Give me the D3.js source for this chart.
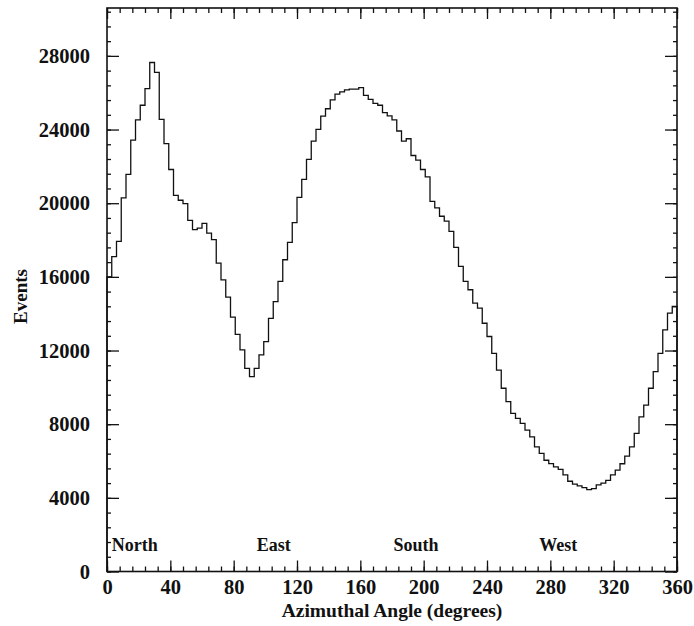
<!DOCTYPE html>
<html>
<head>
<meta charset="utf-8">
<script src="https://cdn.jsdelivr.net/npm/d3@7"></script>
<style>
  html, body { margin: 0; padding: 0; background: #fff; }
  svg { display: block; }
  text { font-family: "Liberation Serif", "DejaVu Serif", serif; fill: #111; }
</style>
</head>
<body>
<svg id="chart" width="694" height="626"></svg>
<script>
// Histogram: azimuthal angle bins of 3 degrees (0..360)
const binWidth = 3;
const binStarts = d3.range(0, 360, 3);
const eventCounts = [
  16000, 17100, 17930, 20290, 21560, 23430, 24520, 25320, 26220, 27640,
  27100, 24550, 23230, 21830, 20430, 20160, 19980, 19070, 18560, 18650,
  18900, 18380, 18020, 16750, 15840, 14900, 13810, 12880, 12030, 11030,
  10580, 11030, 11760, 12480, 13750, 14660, 15750, 16930, 17870, 18950,
  20320, 21290, 22380, 23370, 24010, 24730, 25130, 25610, 25920, 26040,
  26150, 26190, 26190, 26280, 25860, 25640, 25420, 25320, 24920, 24740,
  24520, 23920, 23370, 23500, 22590, 22340, 21830, 21430, 20100, 19750,
  19290, 19030, 18470, 17600, 16570, 15750, 15300, 14570, 14300, 13480,
  12760, 11850, 10940, 9950, 9220, 8590, 8310, 8040, 7680, 7310,
  6770, 6410, 6040, 5860, 5680, 5550, 5250, 4900, 4750, 4650,
  4560, 4450, 4500, 4700, 4800, 4950, 5250, 5500, 5850, 6270,
  6770, 7500, 8400, 9040, 9950, 10850, 11850, 13120, 14030, 14400
];
const xTickValues = [0, 40, 80, 120, 160, 200, 240, 280, 320, 360];
const xMinorValues = d3.range(0, 361, 8);
const yTickValues = [0, 4000, 8000, 12000, 16000, 20000, 24000, 28000];
const yMinorValues = d3.range(0, 30601, 800);
const compassLabels = ["North", "East", "South", "West"];
const compassAngles = [3, 94.5, 181, 273];
const compassLevel = 1100;
const xTitle = "Azimuthal Angle (degrees)";
const yTitle = "Events";

const W = 694, H = 626;
const margin = {top: 8, right: 17, bottom: 54.5, left: 107};
const svg = d3.select("#chart");

const x = d3.scaleLinear().domain([0, 360]).range([margin.left, W - margin.right]);
const y = d3.scaleLinear().domain([0, 30600]).range([H - margin.bottom, margin.top]);

// Histogram outline (step path)
const pts = [];
pts.push([x(0), y(0)]);
binStarts.forEach((b, i) => {
  pts.push([x(b), y(eventCounts[i])]);
  pts.push([x(b + binWidth), y(eventCounts[i])]);
});
pts.push([x(360), y(0)]);
svg.append("path")
  .attr("d", d3.line()(pts))
  .attr("fill", "none")
  .attr("stroke", "#111")
  .attr("stroke-width", 1.3)
  .attr("stroke-linejoin", "miter");

// Axes
const fontSize = 20.5;
function styleAxis(g) {
  g.select(".domain").remove();
  g.selectAll("line").attr("stroke", "#111").attr("stroke-width", 1.3);
  g.selectAll("text").attr("font-size", fontSize).attr("font-weight", "bold")
    .attr("font-family", "Liberation Serif, DejaVu Serif, serif").attr("fill", "#111");
}

// bottom
svg.append("g").attr("transform", `translate(0,${y(0)})`)
  .call(d3.axisBottom(x).tickValues(xMinorValues).tickSize(-5).tickFormat(""))
  .call(styleAxis);
svg.append("g").attr("transform", `translate(0,${y(0)})`)
  .call(d3.axisBottom(x).tickValues(xTickValues).tickSizeInner(-11).tickSizeOuter(0).tickPadding(8.2).tickFormat(d3.format("d")))
  .call(styleAxis);
// top
svg.append("g").attr("transform", `translate(0,${margin.top})`)
  .call(d3.axisTop(x).tickValues(xMinorValues).tickSize(-5).tickFormat(""))
  .call(styleAxis);
svg.append("g").attr("transform", `translate(0,${margin.top})`)
  .call(d3.axisTop(x).tickValues(xTickValues).tickSize(-11).tickFormat(""))
  .call(styleAxis);
// left
svg.append("g").attr("transform", `translate(${margin.left},0)`)
  .call(d3.axisLeft(y).tickValues(yMinorValues).tickSize(-4).tickFormat(""))
  .call(styleAxis);
svg.append("g").attr("transform", `translate(${margin.left},0)`)
  .call(d3.axisLeft(y).tickValues(yTickValues).tickSizeInner(-12).tickSizeOuter(0).tickPadding(17).tickFormat(d3.format("d")))
  .call(styleAxis);
// right
svg.append("g").attr("transform", `translate(${W - margin.right},0)`)
  .call(d3.axisRight(y).tickValues(yMinorValues).tickSize(-4).tickFormat(""))
  .call(styleAxis);
svg.append("g").attr("transform", `translate(${W - margin.right},0)`)
  .call(d3.axisRight(y).tickValues(yTickValues).tickSize(-12).tickFormat(""))
  .call(styleAxis);

// frame
svg.append("rect")
  .attr("x", x(0)).attr("y", y(30600))
  .attr("width", x(360) - x(0)).attr("height", y(0) - y(30600))
  .attr("fill", "none").attr("stroke", "#111").attr("stroke-width", 1.6);

// compass labels
svg.selectAll("text.compass").data(compassLabels).join("text")
  .attr("class", "compass")
  .attr("x", (d, i) => x(compassAngles[i]))
  .attr("y", y(compassLevel))
  .attr("font-size", 18).attr("font-weight", "bold")
  .text(d => d);

// axis titles
svg.append("text")
  .attr("x", (x(0) + x(360)) / 2).attr("y", 617)
  .attr("text-anchor", "middle").attr("font-size", 19.5).attr("font-weight", "bold")
  .text(xTitle);
svg.append("text")
  .attr("transform", `translate(26.5,296.5) rotate(-90)`)
  .attr("text-anchor", "middle").attr("font-size", 19).attr("font-weight", "bold")
  .text(yTitle);
</script>
</body>
</html>
